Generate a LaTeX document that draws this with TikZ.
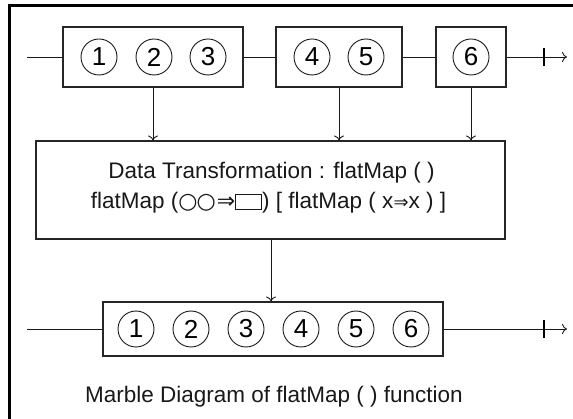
\documentclass[tikz,border=0pt]{standalone}
\usepackage{fontspec}
\setmainfont{Liberation Sans}
\newfontfamily\symfont{DejaVu Sans}
\usetikzlibrary{arrows.meta}

\begin{document}
\begin{tikzpicture}[x=1pt,y=-1pt,
  stream/.style={draw=black!85, line width=1.1pt, inner sep=0pt, minimum height=60pt},
  marble/.style={draw=black!90, circle, minimum size=36pt, inner sep=0pt, line width=0.9pt,
                 font=\fontsize{26}{26}\selectfont},
  flow/.style={line width=0.9pt, draw=black!90},
  drop/.style={flow, -{To[length=5pt,width=10pt]}},
  endtip/.style={flow, -{To[length=5pt,width=10pt]}},
  txt/.style={font=\fontsize{22.5}{22.5}\selectfont, text=black!90}]
\useasboundingbox (0,0) rectangle (573,419);

% outer frame (top and left edges only)
\draw[line width=3pt] (9,419) -- (9,6) -- (573,6);

% ---- source stream ----
\node[stream, minimum width=180pt] (g1) at (153,57) {};
\node[stream, minimum width=126pt] (g2) at (339,57) {};
\node[stream, minimum width=70pt]  (g3) at (471,57) {};
\node[marble] (a1) at (99,57)  {1};
\node[marble] (a2) at (154,57) {2};
\node[marble] (a3) at (208,57) {3};
\node[marble] (a4) at (312,57) {4};
\node[marble] (a5) at (366,57) {5};
\node[marble] (a6) at (471,57) {6};

\coordinate (s1) at (27,57);
\coordinate (t1) at (544,57);
\coordinate (e1) at (567,57);
\draw[flow] (s1) -- (g1.west);
\draw[flow] (g1.east) -- (g2.west);
\draw[flow] (g2.east) -- (g3.west);
\draw[endtip] (g3.east) -- (e1);
\draw[line width=2.8pt] ([yshift=-9pt]t1) -- ([yshift=9pt]t1);

% ---- transformation ----
\node[stream, minimum width=469pt, minimum height=98pt] (tr) at (270.5,190) {};
\node[txt] (l1) at (271.5,173) {Data Transformation : flatMap ( )};
\node[txt] (l2) at (268.5,203) {flatMap ({\symfont\fontsize{22}{22}\selectfont ○\kern-1pt○\kern1pt⇒}{\fboxsep=0pt\fboxrule=1.1pt\fbox{\rule{0pt}{0.62em}\hspace{1.1em}}}) [ flatMap ( x{\symfont\fontsize{18}{18}\selectfont ⇒}x ) ]};

\draw[drop] (g1.south) -- (g1.south |- tr.north);
\draw[drop] (g2.south) -- (g2.south |- tr.north);
\draw[drop] (g3.south) -- (g3.south |- tr.north);

% ---- result stream ----
\node[stream, minimum width=340pt, minimum height=54pt] (out) at (273,329) {};
\node[marble] (b1) at (136,329) {1};
\node[marble] (b2) at (191,329) {2};
\node[marble] (b3) at (246,329) {3};
\node[marble] (b4) at (301,329) {4};
\node[marble] (b5) at (356,329) {5};
\node[marble] (b6) at (411,329) {6};

\draw[drop] ([xshift=0.5pt]tr.south) -- ([xshift=0.5pt]tr.south |- out.north);

\coordinate (s2) at (27,329);
\coordinate (t2) at (544,329);
\coordinate (e2) at (567,329);
\draw[flow] (s2) -- (out.west);
\draw[endtip] (out.east) -- (e2);
\draw[line width=2.8pt] ([yshift=-9pt]t2) -- ([yshift=9pt]t2);

\node[txt] (cap) at (274,397) {Marble Diagram of flatMap ( ) function};
\end{tikzpicture}
\end{document}
